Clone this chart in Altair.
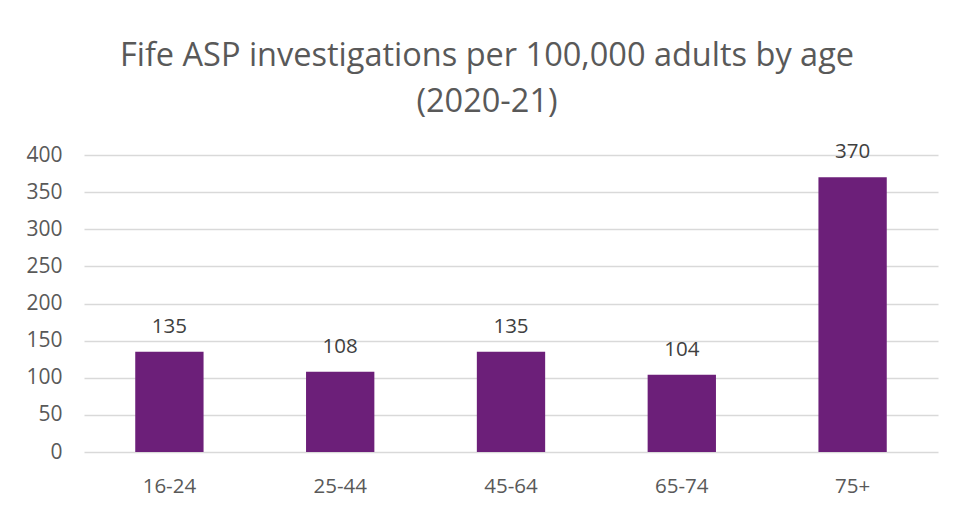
import altair as alt
import pandas as pd

categories = ["16-24", "25-44", "45-64", "65-74", "75+"]
values = [135, 108, 135, 104, 370]

df = pd.DataFrame({"age": categories, "rate": values})

FONT = "Open Sans"
TXT = "#595959"

base = alt.Chart(df).encode(
    x=alt.X("age:N", sort=categories, title=None,
            scale=alt.Scale(paddingInner=0.6, paddingOuter=0.3),
            axis=alt.Axis(labelAngle=0, labelFont=FONT, labelFontSize=20.5, labelColor=TXT,
                          labelPadding=24, domain=False, ticks=False, grid=False)),
    y=alt.Y("rate:Q", title=None,
            scale=alt.Scale(domain=[0, 400]),
            axis=alt.Axis(values=list(range(0, 401, 50)), labelFont=FONT, labelFontSize=21,
                          labelColor=TXT, labelPadding=22, domain=False, ticks=False,
                          grid=True, gridColor="#d9d9d9", gridWidth=1.5)),
)

bars = base.mark_bar(color="#6C1F79")
labels = base.mark_text(dy=-25, font=FONT, fontSize=20.5, color="#404040").encode(text="rate:Q")

chart = (bars + labels).properties(
    width=854,
    height=297,
    padding={"left": 76, "top": 147, "right": 9, "bottom": 50},
    autosize=alt.AutoSizeParams(type="none"),
    title=alt.Title(
        ["Fife ASP investigations per 100,000 adults by age", "(2020-21)"],
        font=FONT, fontSize=32.5, fontWeight="normal", color=TXT,
        anchor="middle", frame="group", dx=-24, offset=24, lineHeight=46,
    ),
).configure_view(stroke=None)

chart.save("out.html", embed_options={"renderer": "svg", "actions": False})
